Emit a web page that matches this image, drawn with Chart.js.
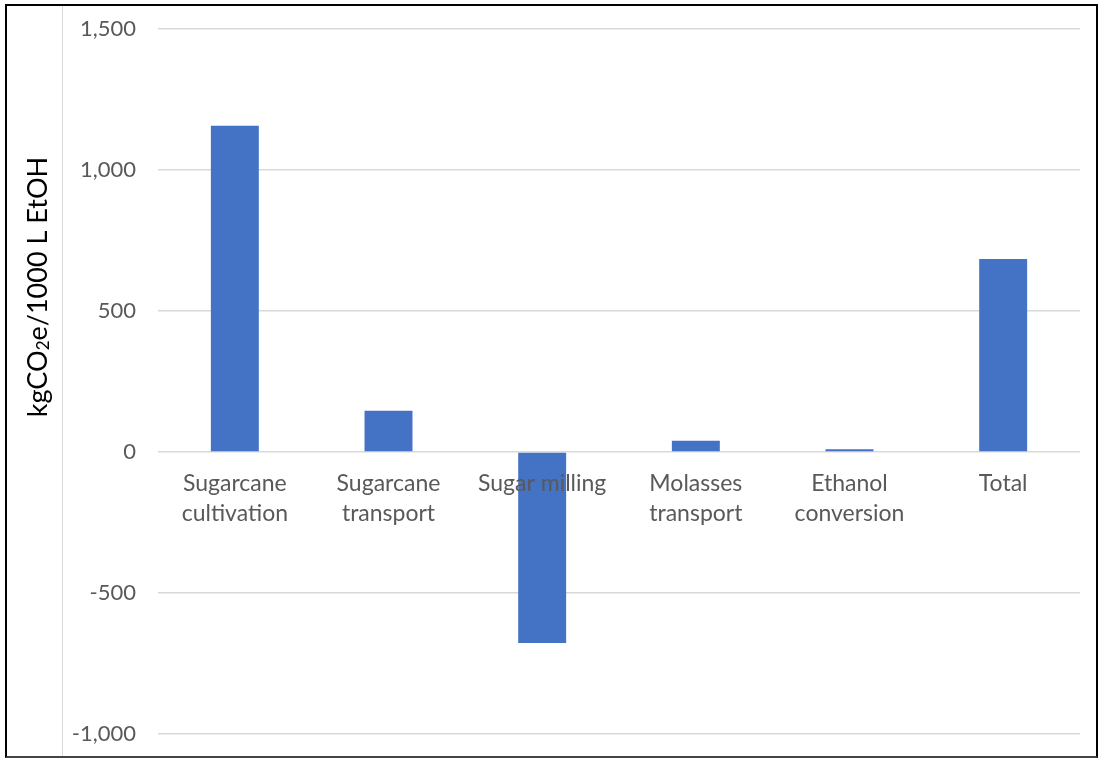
<!DOCTYPE html>
<html>
<head>
<meta charset="utf-8">
<script src="https://cdn.jsdelivr.net/npm/chart.js@4.4.1/dist/chart.umd.min.js"></script>
<style>
  html, body { margin: 0; padding: 0; background: #fff; overflow: hidden; }
  #wrap { position: relative; width: 1101px; height: 758px; }
  #frame {
    position: absolute; left: 5px; top: 4px; width: 1093px; height: 754px;
    border: 2px solid #000; border-bottom-color: #444; box-sizing: border-box; pointer-events: none;
  }
  #edge { position: absolute; left: 62px; top: 6px; width: 1px; height: 750px; background: #d9d9d9; }
</style>
</head>
<body>
<div id="wrap">
  <canvas id="lcaChart" width="1101" height="758"></canvas>
  <div id="edge"></div>
  <div id="frame"></div>
</div>
<script>
"use strict";

// Data
const stages = [
  ["Sugarcane", "cultivation"],
  ["Sugarcane", "transport"],
  "Sugar milling",
  ["Molasses", "transport"],
  ["Ethanol", "conversion"],
  "Total"
];
const emissions = [1157, 146, -677, 40, 10, 684];   // kgCO2e / 1000 L EtOH
const yTicks = [-1000, -500, 0, 500, 1000, 1500];

const FONT = "Lato, 'Open Sans', sans-serif";

// Rotated y title with a real subscript 2
const yTitlePlugin = {
  id: "yTitle",
  afterDraw(chart) {
    const ctx = chart.ctx;
    ctx.save();
    ctx.translate(38, 287);
    ctx.rotate(-Math.PI / 2);
    ctx.fillStyle = "#000";
    ctx.textBaseline = "middle";
    const parts = [
      { t: "kgCO", size: 27, dy: 0 },
      { t: "2", size: 17, dy: 6 },
      { t: "e/1000 L EtOH", size: 27, dy: 0 }
    ];
    let total = 0;
    parts.forEach(p => { ctx.font = p.size + "px " + FONT; p.w = ctx.measureText(p.t).width; total += p.w; });
    let x = -total / 2;
    parts.forEach(p => {
      ctx.font = p.size + "px " + FONT;
      ctx.fillText(p.t, x, p.dy);
      x += p.w;
    });
    ctx.restore();
  }
};

const ctx = document.getElementById("lcaChart").getContext("2d");
new Chart(ctx, {
  type: "bar",
  data: {
    labels: stages,
    datasets: [{
      data: emissions,
      backgroundColor: "#4472C4",
      borderWidth: 0,
      barPercentage: 0.312,
      categoryPercentage: 1
    }]
  },
  options: {
    responsive: false,
    animation: false,
    layout: { padding: { left: 0, right: 21, top: 29, bottom: 24 } },
    plugins: {
      legend: { display: false },
      tooltip: { enabled: false }
    },
    scales: {
      x: {
        position: { y: 0 },
        afterFit: s => { s.height = 0; },
        grid: { display: false, drawTicks: false },
        border: { display: false },
        ticks: {
          z: 1,   // category labels sit on top of the bars
          color: "#595959",
          padding: 17,
          maxRotation: 0,
          autoSkip: false,
          font: { family: FONT, size: 23, lineHeight: "30px" }
        }
      },
      y: {
        min: yTicks[0],
        max: yTicks[yTicks.length - 1],
        afterFit: s => { s.width = 158; s.paddingTop = 0; s.paddingBottom = 0; },
        afterBuildTicks: s => { s.ticks = yTicks.map(v => ({ value: v })); },
        grid: { color: "#d9d9d9", lineWidth: 1.5, drawTicks: false },
        border: { display: false },
        ticks: {
          color: "#595959",
          padding: 22,
          font: { family: FONT, size: 22 },
          callback: v => v.toLocaleString("en-US")
        }
      }
    }
  },
  plugins: [yTitlePlugin]
});
</script>
</body>
</html>
